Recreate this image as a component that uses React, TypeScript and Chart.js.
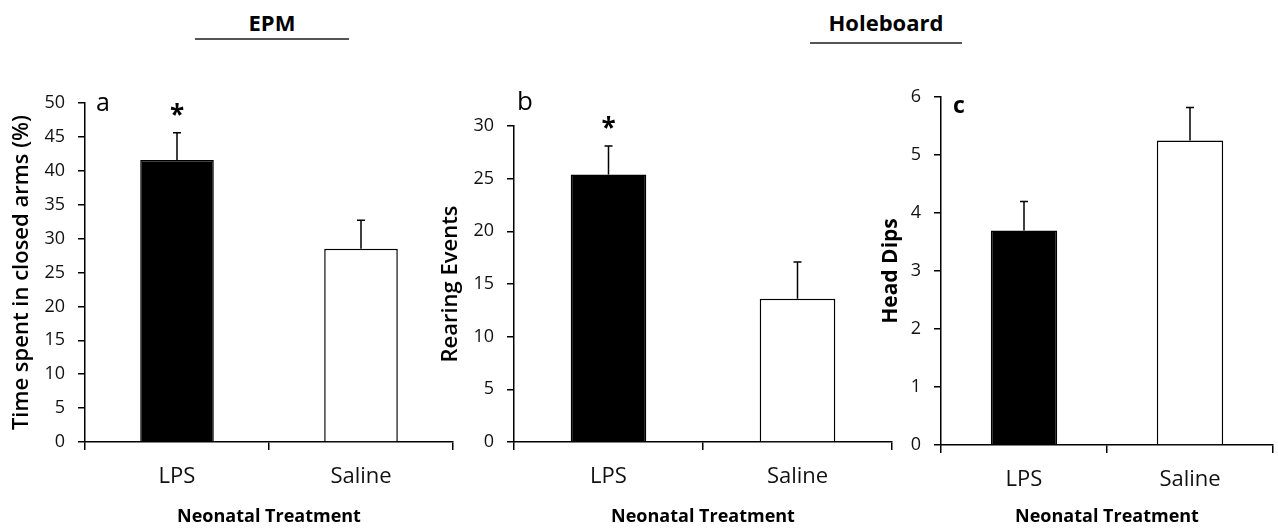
import React, { useEffect, useRef } from "react";
import { Chart, registerables } from "chart.js";

Chart.register(...registerables);

const categories = ["LPS", "Saline"];
const epmValues = [41.6, 28.5];
const epmErrors = [4.0, 4.2];
const rearingValues = [25.4, 13.6];
const rearingErrors = [2.7, 3.5];
const headDipValues = [3.7, 5.25];
const headDipErrors = [0.5, 0.57];
const epmTicks = { max: 50, step: 5 };
const rearingTicks = { max: 30, step: 5 };
const headDipTicks = { max: 6, step: 1 };
const barColors = ["#000000", "#ffffff"];

const FONT = "'Open Sans', 'DejaVu Sans', sans-serif";

type PanelSpec = {
  values: number[];
  errors: number[];
  yMax: number;
  yStep: number;
  yTitle: string;
  yTitleWeight: string | number;
  yTitleSize: number;
  letter: string;
  letterFont: string;
  letterDx: number;
  letterDy: number;
  stars: boolean[];
  left: number;
  width: number;
  padTop: number;
  padRight: number;
  yWidth: number;
  xHeight: number;
  yTitlePad: number;
};

const panels: PanelSpec[] = [
  {
    values: epmValues, errors: epmErrors, yMax: epmTicks.max, yStep: epmTicks.step,
    yTitle: "Time spent in closed arms (%)", yTitleWeight: 600, yTitleSize: 22,
    letter: "a", letterFont: `25px ${FONT}`, letterDx: 11, letterDy: 8,
    stars: [true, false],
    left: 0, width: 470, padTop: 103, padRight: 17, yWidth: 85, xHeight: 88, yTitlePad: 9,
  },
  {
    values: rearingValues, errors: rearingErrors, yMax: rearingTicks.max, yStep: rearingTicks.step,
    yTitle: "Rearing Events", yTitleWeight: 600, yTitleSize: 22,
    letter: "b", letterFont: `26px ${FONT}`, letterDx: 3, letterDy: -16,
    stars: [true, false],
    left: 430, width: 470, padTop: 126, padRight: 8, yWidth: 84, xHeight: 88, yTitlePad: 8,
  },
  {
    values: headDipValues, errors: headDipErrors, yMax: headDipTicks.max, yStep: headDipTicks.step,
    yTitle: "Head Dips", yTitleWeight: "bold", yTitleSize: 21,
    letter: "c", letterFont: `bold 23px ${FONT}`, letterDx: 12, letterDy: 16,
    stars: [false, false],
    left: 870, width: 408, padTop: 97, padRight: 5, yWidth: 71, xHeight: 85, yTitlePad: 8,
  },
];

function makePlugin(p: PanelSpec) {
  return {
    id: "errAndMarks",
    afterDatasetsDraw(chart: any) {
      const ctx = chart.ctx;
      const meta = chart.getDatasetMeta(0);
      const y = chart.scales.y;
      ctx.save();
      ctx.strokeStyle = "#000";
      ctx.lineWidth = 1.5;
      meta.data.forEach((bar: any, i: number) => {
        const x = bar.x;
        const yTop = y.getPixelForValue(p.values[i]);
        const yErr = y.getPixelForValue(p.values[i] + p.errors[i]);
        ctx.beginPath();
        ctx.moveTo(x, yTop);
        ctx.lineTo(x, yErr);
        ctx.moveTo(x - 4, yErr);
        ctx.lineTo(x + 4, yErr);
        ctx.stroke();
        if (p.stars[i]) {
          ctx.fillStyle = "#000";
          ctx.font = `bold 26px ${FONT}`;
          ctx.textAlign = "center";
          ctx.textBaseline = "alphabetic";
          ctx.fillText("*", x, yErr - 23 + 14);
        }
      });
      const area = chart.chartArea;
      ctx.fillStyle = "#000";
      ctx.font = p.letterFont;
      ctx.textAlign = "left";
      ctx.textBaseline = "alphabetic";
      ctx.fillText(p.letter, area.left + p.letterDx, area.top + p.letterDy);
      ctx.restore();
    },
  };
}

function Panel({ spec }: { spec: PanelSpec }) {
  const ref = useRef<HTMLCanvasElement>(null);
  useEffect(() => {
    if (!ref.current) return;
    const chart = new Chart(ref.current, {
      type: "bar",
      data: {
        labels: categories,
        datasets: [
          {
            data: spec.values,
            backgroundColor: barColors,
            borderColor: "#000",
            borderWidth: 1.5,
            categoryPercentage: 1,
            barPercentage: 0.4,
          },
        ],
      },
      options: {
        animation: false,
        responsive: false,
        maintainAspectRatio: false,
        layout: { padding: { top: spec.padTop, right: spec.padRight, left: 0, bottom: 0 } },
        plugins: { legend: { display: false }, tooltip: { enabled: false } },
        scales: {
          x: {
            type: "category",
            offset: true,
            grid: { offset: true, drawOnChartArea: false, drawTicks: true, tickLength: 8, color: "#000", lineWidth: 1.5 },
            border: { display: true, color: "#000", width: 1.5 },
            ticks: { padding: 14, color: "#111", font: { family: FONT, size: 22 } },
            title: {
              display: true,
              text: "Neonatal Treatment",
              color: "#000",
              font: { family: FONT, size: 18, weight: "bold" },
              padding: { top: 0, bottom: 2 },
            },
            afterFit: (s: any) => { s.height = spec.xHeight; },
          },
          y: {
            min: 0,
            max: spec.yMax,
            grid: { drawOnChartArea: false, drawTicks: true, tickLength: 7, color: "#000", lineWidth: 1.5 },
            border: { display: true, color: "#000", width: 1.5 },
            ticks: { stepSize: spec.yStep, padding: 13, color: "#111", font: { family: FONT, size: 18 } },
            title: {
              display: true,
              text: spec.yTitle,
              color: "#000",
              font: { family: FONT, size: spec.yTitleSize, weight: spec.yTitleWeight as any },
              padding: { top: spec.yTitlePad, bottom: 0 },
            },
            afterFit: (s: any) => { s.width = spec.yWidth; },
          },
        },
      },
      plugins: [makePlugin(spec)],
    } as any);
    return () => chart.destroy();
  }, [spec]);
  return (
    <canvas
      ref={ref}
      width={spec.width}
      height={530}
      style={{ position: "absolute", left: spec.left, top: 0, width: spec.width, height: 530 }}
    />
  );
}

const headerStyle: React.CSSProperties = {
  position: "absolute",
  fontFamily: FONT,
  fontWeight: "bold",
  fontSize: 22,
  lineHeight: "26px",
  textAlign: "center",
  color: "#000",
  width: 200,
};

export default function App() {
  return (
    <div style={{ position: "fixed", left: 0, top: 0, width: 1278, height: 530, background: "#fff", overflow: "hidden" }}>
      <div style={{ ...headerStyle, left: 172, top: 9 }}>EPM</div>
      <div style={{ position: "absolute", left: 195, top: 38, width: 154, height: 2, background: "#555" }} />
      <div style={{ ...headerStyle, left: 786, top: 9 }}>Holeboard</div>
      <div style={{ position: "absolute", left: 810, top: 42, width: 152, height: 2, background: "#555" }} />
      {panels.map((p, i) => (
        <Panel key={i} spec={p} />
      ))}
    </div>
  );
}
